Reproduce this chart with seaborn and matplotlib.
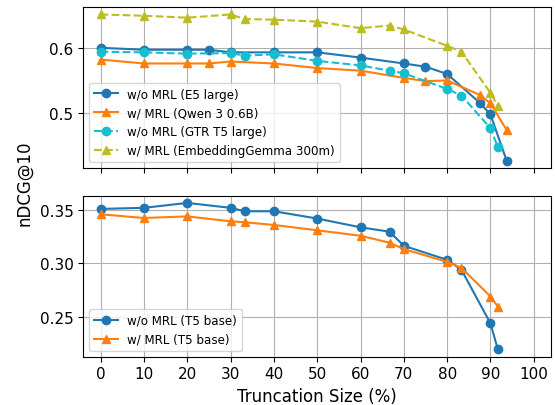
import numpy as np
import seaborn as sns
import matplotlib
matplotlib.use("Agg")
import matplotlib.pyplot as plt

# truncation sizes (%) for 1024-dim and 768-dim models
x_1024 = [0, 10, 20, 25, 30, 40, 50, 60, 70, 75, 80, 87.5, 90, 93.75]
x_768 = [0, 10, 20, 30, 33.3, 40, 50, 60, 66.7, 70, 80, 83.3, 90, 91.7]

e5_large = [0.600, 0.597, 0.597, 0.597, 0.593, 0.593, 0.593, 0.585, 0.576, 0.571, 0.560, 0.516, 0.498, 0.427]
qwen3 = [0.582, 0.576, 0.576, 0.576, 0.579, 0.576, 0.569, 0.565, 0.554, 0.549, 0.550, 0.528, 0.515, 0.474]
gtr_t5 = [0.594, 0.593, 0.591, 0.592, 0.588, 0.590, 0.580, 0.573, 0.565, 0.561, 0.537, 0.527, 0.477, 0.448]
gemma = [0.651, 0.649, 0.646, 0.651, 0.644, 0.643, 0.640, 0.630, 0.634, 0.628, 0.603, 0.594, 0.531, 0.511]

t5_wo = [0.351, 0.352, 0.3566, 0.352, 0.3488, 0.3488, 0.342, 0.3338, 0.3297, 0.3165, 0.3034, 0.2941, 0.2440, 0.2197]
t5_w = [0.346, 0.3425, 0.344, 0.3394, 0.3385, 0.336, 0.331, 0.3259, 0.3194, 0.3134, 0.3015, 0.2959, 0.2691, 0.2597]

fig, (ax1, ax2) = plt.subplots(2, 1, figsize=(5.55, 4.06), dpi=100, sharex=True)
fig.subplots_adjust(left=0.150, right=0.993, top=0.980, bottom=0.119, hspace=0.17)

def draw(ax, x, y, color, marker, ls, label):
    sns.lineplot(x=x, y=y, ax=ax, color=color, marker=marker, linestyle=ls,
                 label=label, markersize=6, markeredgecolor=color,
                 markeredgewidth=1, linewidth=1.5)

draw(ax1, x_1024, e5_large, "tab:blue", "o", "-", "w/o MRL (E5 large)")
draw(ax1, x_1024, qwen3, "tab:orange", "^", "-", "w/ MRL (Qwen 3 0.6B)")
draw(ax1, x_768, gtr_t5, "tab:cyan", "o", "--", "w/o MRL (GTR T5 large)")
draw(ax1, x_768, gemma, "tab:olive", "^", "--", "w/ MRL (EmbeddingGemma 300m)")

draw(ax2, x_768, t5_wo, "tab:blue", "o", "-", "w/o MRL (T5 base)")
draw(ax2, x_768, t5_w, "tab:orange", "^", "-", "w/ MRL (T5 base)")

for ax in (ax1, ax2):
    ax.grid(True)
    ax.set_ylabel("")
    ax.tick_params(labelsize=11)
    ax.legend(loc="lower left", fontsize=8.6)

ax1.set_yticks([0.5, 0.6])
ax1.set_yticklabels(["0.5", "0.6"])
ax2.set_yticks([0.25, 0.30, 0.35])
ax2.set_yticklabels(["0.25", "0.30", "0.35"])
ax2.set_xticks(np.arange(0, 101, 10))
ax2.set_xlim(-4, 104)
ax2.set_xlabel("Truncation Size (%)", fontsize=12)
fig.text(0.044, 0.548, "nDCG@10", rotation=90, fontsize=12, ha="center", va="center")

fig.savefig("out.png", dpi=100)
